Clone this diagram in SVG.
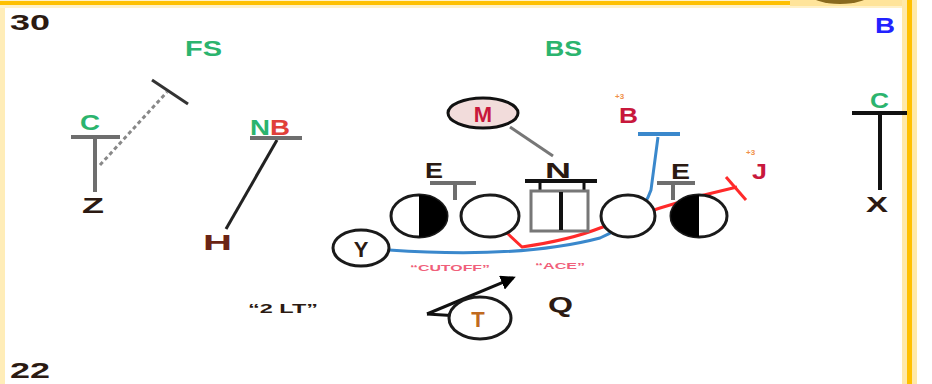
<svg xmlns="http://www.w3.org/2000/svg" width="932" height="384" viewBox="0 0 932 384">
<defs>
<style>
text{font-family:"Liberation Sans",Arial,sans-serif;font-weight:bold;}
.lbl{font-size:22px;}
.grn{fill:#2bb46e;}
.dk{fill:#2b1a12;}
.red{fill:#c8183c;}
.sup{font-size:8px;fill:#f0904a;}
.pink{font-size:9px;fill:#f0607a;}
.pl{fill:#fff;stroke:#1a1a1a;stroke-width:3;}
.bar{stroke:#6e6e6e;stroke-width:4;fill:none;}
.blk{stroke:#111;stroke-width:4;fill:none;}
</style>
<marker id="ah" viewBox="0 0 10 10" refX="8" refY="5" markerWidth="5" markerHeight="5" orient="auto" markerUnits="strokeWidth">
<path d="M0,0 L10,5 L0,10 z" fill="#000"/>
</marker>
</defs>
<rect x="0" y="0" width="932" height="384" fill="#fff"/>
<g id="frame">
<rect x="0" y="0" width="5" height="384" fill="#ffedb8"/>
<rect x="0" y="0" width="912" height="8" fill="#fff1c8"/>
<rect x="0" y="1" width="790" height="4" fill="#ffc000"/>
<rect x="790" y="0" width="122" height="6" fill="#ffe49a"/>
<ellipse cx="840" cy="-6" rx="30" ry="10" fill="#8a6a1e"/>
<rect x="902" y="0" width="15" height="384" fill="#ffe9a8"/>
<rect x="907" y="0" width="5" height="384" fill="#ffc000"/>
</g>
<g id="yard-labels">
<text class="lbl dk" x="10" y="30" textLength="40" lengthAdjust="spacingAndGlyphs">30</text>
<text class="lbl dk" x="10" y="378" textLength="40" lengthAdjust="spacingAndGlyphs">22</text>
<text class="lbl grn" x="185" y="56" textLength="37" lengthAdjust="spacingAndGlyphs">FS</text>
<text class="lbl grn" x="545" y="56" textLength="37" lengthAdjust="spacingAndGlyphs">BS</text>
<text class="lbl" x="875" y="33" fill="#2222ff" textLength="20" lengthAdjust="spacingAndGlyphs">B</text>
</g>
<g id="connectors">
<line x1="100" y1="165" x2="167" y2="92" stroke="#888" stroke-width="3" stroke-dasharray="4,3"/>
<line x1="152" y1="80" x2="188" y2="104" stroke="#333" stroke-width="3"/>
<line x1="277" y1="140" x2="226" y2="229" stroke="#222" stroke-width="3"/>
<line x1="510" y1="127" x2="553" y2="156" stroke="#777" stroke-width="3"/>
<path d="M389 250 Q520 259 600 238 Q641 220 651 190 L658 137" fill="none" stroke="#3a88cc" stroke-width="3"/>
<line x1="638" y1="134" x2="680" y2="134" stroke="#3a88cc" stroke-width="4"/>
<path d="M507 233 L522 247 Q570 240 600 228 L660 208 L700 196 L737 187" fill="none" stroke="#ff2a2a" stroke-width="3"/>
<line x1="726" y1="177" x2="746" y2="200" stroke="#ff2a2a" stroke-width="3"/>
<line x1="427" y1="314" x2="459" y2="316" stroke="#111" stroke-width="3"/>
<line x1="427" y1="314" x2="513" y2="278" stroke="#111" stroke-width="3" marker-end="url(#ah)"/>
</g>
<g id="C-left">
<text class="lbl grn" x="80" y="130" textLength="20" lengthAdjust="spacingAndGlyphs">C</text>
<line class="bar" x1="71" y1="137" x2="120" y2="137"/>
<line class="bar" x1="95" y1="137" x2="95" y2="192" stroke-width="5"/>
</g>
<g id="Z"><text class="lbl dk" x="82" y="213" textLength="22" lengthAdjust="spacingAndGlyphs">Z</text></g>
<g id="NB">
<text class="lbl" x="250" y="135" textLength="40" lengthAdjust="spacingAndGlyphs"><tspan fill="#2bb46e">N</tspan><tspan fill="#e0403a">B</tspan></text>
<line class="bar" x1="250" y1="138" x2="302" y2="138"/>
</g>
<g id="H"><text class="lbl" x="203" y="250" fill="#6b2414" textLength="29" lengthAdjust="spacingAndGlyphs">H</text></g>
<g id="M">
<ellipse cx="483" cy="113" rx="35" ry="15" fill="#f2dcdb" stroke="#111" stroke-width="3"/>
<text class="lbl red" x="483" y="122" text-anchor="middle">M</text>
</g>
<g id="N">
<text class="lbl dk" x="545" y="178" textLength="26" lengthAdjust="spacingAndGlyphs">N</text>
<line class="blk" x1="525" y1="181" x2="597" y2="181"/>
<line x1="540" y1="181" x2="540" y2="191" stroke="#111" stroke-width="3"/>
<line x1="584" y1="181" x2="584" y2="191" stroke="#111" stroke-width="3"/>
<rect x="531" y="191" width="57" height="40" fill="#fff" stroke="#777" stroke-width="3"/>
<line x1="561" y1="192" x2="561" y2="230" stroke="#111" stroke-width="4"/>
</g>
<g id="E-left">
<text class="lbl dk" x="425" y="178" textLength="18" lengthAdjust="spacingAndGlyphs">E</text>
<line class="bar" x1="430" y1="183" x2="476" y2="183"/>
<line class="bar" x1="455" y1="185" x2="455" y2="200"/>
</g>
<g id="tackle-left">
<ellipse class="pl" cx="419" cy="216" rx="28" ry="21"/>
<path d="M419 195 A28 21 0 0 1 419 237 Z" fill="#000"/>
</g>
<g id="guard-left"><ellipse class="pl" cx="490" cy="216" rx="29" ry="21"/></g>
<g id="guard-right"><ellipse class="pl" cx="628" cy="216" rx="27" ry="21"/></g>
<g id="tackle-right">
<ellipse class="pl" cx="699" cy="216" rx="28" ry="21"/>
<path d="M699 195 A28 21 0 0 0 699 237 Z" fill="#000"/>
</g>
<g id="E-right">
<text class="lbl dk" x="671" y="179" textLength="19" lengthAdjust="spacingAndGlyphs">E</text>
<line class="bar" x1="657" y1="183" x2="695" y2="183"/>
<line class="bar" x1="673" y1="185" x2="673" y2="200"/>
</g>
<g id="B-red">
<text class="sup" x="615" y="99">+3</text>
<text class="lbl red" x="619" y="123" textLength="19" lengthAdjust="spacingAndGlyphs">B</text>
</g>
<g id="J">
<text class="sup" x="746" y="155">+3</text>
<text class="lbl red" x="752" y="179" textLength="15" lengthAdjust="spacingAndGlyphs">J</text>
</g>
<g id="C-right">
<text class="lbl grn" x="870" y="108" textLength="19" lengthAdjust="spacingAndGlyphs">C</text>
<line class="blk" x1="852" y1="113" x2="907" y2="113"/>
<line class="blk" x1="880" y1="115" x2="880" y2="190"/>
</g>
<g id="X"><text class="lbl dk" x="866" y="212" textLength="22" lengthAdjust="spacingAndGlyphs">X</text></g>
<g id="Y">
<ellipse class="pl" cx="361" cy="248" rx="28" ry="18"/>
<text class="lbl dk" x="361" y="257" text-anchor="middle">Y</text>
</g>
<g id="T">
<ellipse class="pl" cx="480" cy="318" rx="31" ry="21"/>
<text class="lbl" x="478" y="327" text-anchor="middle" fill="#c06a20">T</text>
</g>
<g id="Q"><text class="lbl dk" x="548" y="312" textLength="25" lengthAdjust="spacingAndGlyphs">Q</text></g>
<g id="notes">
<text class="dk" x="248" y="313" font-size="12" textLength="70" lengthAdjust="spacingAndGlyphs">“2 LT”</text>
<text class="pink" x="410" y="271" textLength="80" lengthAdjust="spacingAndGlyphs">“CUTOFF”</text>
<text class="pink" x="535" y="269" textLength="50" lengthAdjust="spacingAndGlyphs">“ACE”</text>
</g>
</svg>
